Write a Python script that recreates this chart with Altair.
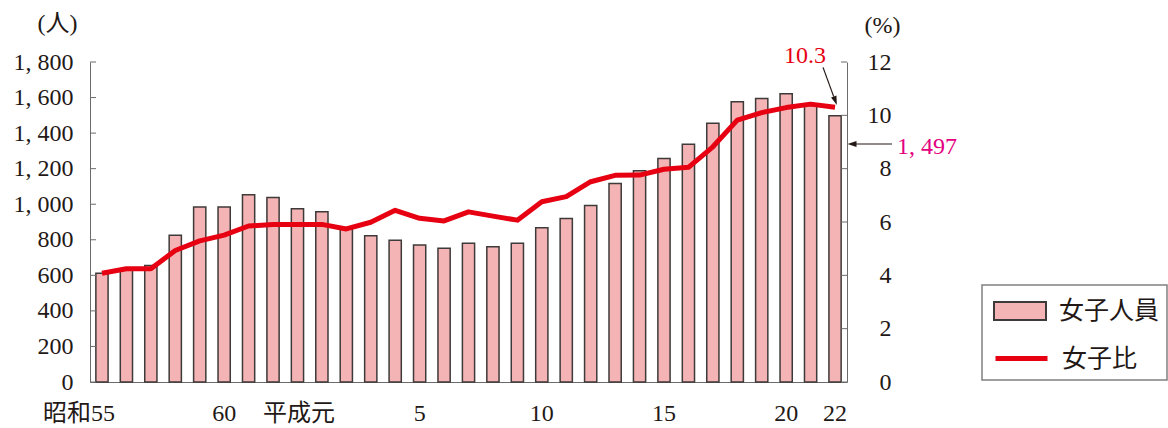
import altair as alt
import pandas as pd

# ---- data ----
years = ["昭和55", "昭和56", "昭和57", "昭和58", "昭和59", "昭和60", "昭和61", "昭和62", "昭和63",
         "平成元", "平成2", "平成3", "平成4", "平成5", "平成6", "平成7", "平成8", "平成9", "平成10",
         "平成11", "平成12", "平成13", "平成14", "平成15", "平成16", "平成17", "平成18", "平成19",
         "平成20", "平成21", "平成22"]
persons = [612, 635, 655, 825, 984, 984, 1053, 1038, 975, 958, 865, 823, 797, 771, 752, 780,
           761, 780, 868, 920, 993, 1117, 1188, 1257, 1338, 1456, 1577, 1594, 1622, 1555, 1497]
ratio = [4.08, 4.25, 4.25, 4.93, 5.29, 5.51, 5.85, 5.91, 5.91, 5.91, 5.74, 5.99, 6.44, 6.14,
         6.04, 6.38, 6.22, 6.07, 6.76, 6.95, 7.51, 7.75, 7.76, 7.98, 8.05, 8.82, 9.82, 10.10,
         10.29, 10.42, 10.3]
x_tick_years = ["昭和55", "昭和60", "平成元", "平成5", "平成10", "平成15", "平成20", "平成22"]
x_tick_text = ["昭和55", "60", "平成元", "5", "10", "15", "20", "22"]
left_ticks = [0, 200, 400, 600, 800, 1000, 1200, 1400, 1600, 1800]
right_ticks = [0, 2, 4, 6, 8, 10, 12]
series_bar = "女子人員"
series_line = "女子比"
last_year = "平成22"
last_ratio_label = "10.3"
last_persons_label = "1, 497"

# ---- styles ----
PINK = "#f4b3b4"
RED = "#e60012"
MAGENTA = "#e4007f"
INK = "#231815"
EDGE = "#3e3a39"
AXIS = "#6b6b6b"
FONT = "Liberation Serif, Noto Sans CJK JP"
W, H = 757, 320

df = pd.DataFrame({"year": years, "persons": persons, "ratio": ratio})
one = pd.DataFrame({"year": [last_year]})

label_expr = " : ".join(
    f"datum.value == '{y}' ? '{t}'" for y, t in zip(x_tick_years, x_tick_text)
) + " : ''"
wide_test = "datum.value == '昭和55' || datum.value == '平成元'"

x_enc = alt.X(
    "year:N", sort=years,
    scale=alt.Scale(paddingInner=0.5, paddingOuter=0.24),
    axis=alt.Axis(
        title=None, labelExpr=label_expr, labelOverlap=False, labelAngle=0,
        labelAlign={"condition": {"test": wide_test, "value": "right"}, "value": "center"},
        labelOffset={"condition": {"test": wide_test, "value": 13}, "value": 0},
        labelPadding=31, labelBaseline="middle", labelFont=FONT, labelFontSize=24,
        labelColor=INK, ticks=False, tickSize=0, domainColor=AXIS, domainWidth=1, grid=False,
    ),
)

left_scale = alt.Scale(domain=[0, 1800], nice=False, zero=True)
right_scale = alt.Scale(domain=[0, 12], nice=False, zero=True)

bars = alt.Chart(df).transform_calculate(series=f"'{series_bar}'").mark_bar(
    stroke=EDGE, strokeWidth=1.5
).encode(
    x=x_enc,
    y=alt.Y("persons:Q", scale=left_scale, axis=alt.Axis(
        orient="left", values=left_ticks, title="(人)", titleAngle=0, titleX=-33, titleY=-39,
        titleAlign="center", titleBaseline="middle", titleFont=FONT, titleFontSize=24,
        titleFontWeight="normal", titleColor=INK,
        labelExpr="replace(format(datum.value, ',d'), ',', ', ')",
        labelFont=FONT, labelFontSize=24, labelColor=INK, labelPadding=17,
        ticks=False, tickSize=0, domainColor=AXIS, domainWidth=1, grid=False)),
    fill=alt.Fill("series:N", scale=alt.Scale(domain=[series_bar], range=[PINK]),
                  legend=alt.Legend(
                      title=None, orient="none", legendX=916, legendY=235, padding=0,
                      symbolType="M-2,-0.7L2,-0.7L2,0.7L-2,0.7Z", symbolSize=676,
                      symbolStrokeColor=EDGE, symbolStrokeWidth=2, symbolOpacity=1,
                      labelFont=FONT, labelFontSize=25, labelColor=INK, labelOffset=25)),
)

line = alt.Chart(df).transform_calculate(series=f"'{series_line}'").mark_line(
    strokeWidth=5, strokeJoin="round", strokeCap="butt"
).encode(
    x=x_enc,
    y=alt.Y("ratio:Q", scale=right_scale, axis=alt.Axis(
        orient="right", values=right_ticks, title="(%)", titleAngle=0, titleX=35, titleY=-37,
        titleAlign="center", titleBaseline="middle", titleFont=FONT, titleFontSize=24,
        titleFontWeight="normal", titleColor=INK,
        labelFont=FONT, labelFontSize=24, labelColor=INK, labelAlign="right", labelPadding=44,
        ticks=False, tickSize=0, domainColor=AXIS, domainWidth=1, grid=False)),
    stroke=alt.Stroke("series:N", scale=alt.Scale(domain=[series_line], range=[RED]),
                      legend=alt.Legend(
                          title=None, orient="none", legendX=916, legendY=281, padding=0,
                          symbolType="M-2,0L2,0", symbolSize=676, symbolStrokeWidth=5,
                          symbolOpacity=1,
                          labelFont=FONT, labelFontSize=25, labelColor=INK, labelOffset=25)),
)

# inward tick marks
lt = alt.Chart(pd.DataFrame({"v": left_ticks})).mark_rule(color=AXIS, strokeWidth=1).encode(
    y=alt.Y("v:Q", scale=left_scale, axis=None), x=alt.value(0), x2=alt.value(6))
rt = alt.Chart(pd.DataFrame({"v": right_ticks})).mark_rule(color=AXIS, strokeWidth=1).encode(
    y=alt.Y("v:Q", scale=right_scale, axis=None), x=alt.value(W - 6), x2=alt.value(W))

# annotation: 10.3 with arrow to last line point
head_path = "M0,0L-0.32,-1L0.32,-1Z"
ann_text = alt.Chart(one).mark_text(
    text=last_ratio_label, color=RED, font=FONT, fontSize=24, align="center",
    baseline="middle", xOffset=-30
).encode(x=x_enc, y=alt.Y("v:Q", scale=right_scale, axis=None)).transform_calculate(v="12.22")
ann_arrow = alt.Chart(one).mark_rule(
    color=INK, strokeWidth=1.2, xOffset=-12, x2Offset=-1.3
).encode(
    x=x_enc, x2="year:N",
    y=alt.Y("a:Q", scale=right_scale, axis=None), y2="b:Q",
).transform_calculate(a="11.8", b="10.7")
ann_head = alt.Chart(one).mark_point(
    shape=head_path, size=324, filled=True, color=INK, opacity=1, angle=340, xOffset=1.8
).encode(x=x_enc, y=alt.Y("v:Q", scale=right_scale, axis=None)).transform_calculate(v="10.39")

# annotation: 1,497 arrow to right side
p_arrow = alt.Chart(one).mark_rule(color=INK, strokeWidth=1.2).encode(
    x=alt.value(765), x2=alt.value(802), y=alt.value(82))
p_head = alt.Chart(one).mark_point(
    shape=head_path, size=324, filled=True, color=INK, opacity=1, angle=90
).encode(x=alt.value(757.5), y=alt.value(82))
p_text = alt.Chart(one).mark_text(
    text=last_persons_label, color=MAGENTA, font=FONT, fontSize=24, align="left", baseline="middle"
).encode(x=alt.value(807), y=alt.value(85))

# legend frame
frame = alt.Chart(one).mark_rect(fill="transparent", stroke="#808080", strokeWidth=1.5).encode(
    x=alt.value(892), x2=alt.value(1077), y=alt.value(223), y2=alt.value(318))

chart = alt.layer(
    bars, line, lt, rt, ann_text, ann_arrow, ann_head, p_arrow, p_head, p_text, frame
).resolve_scale(y="independent").properties(
    width=W, height=H,
    autosize=alt.AutoSizeParams(type="none"),
    padding={"left": 90, "top": 62, "right": 321, "bottom": 46},
).configure_view(stroke=None)

chart.save("out.html", embed_options={"renderer": "svg", "actions": False})
